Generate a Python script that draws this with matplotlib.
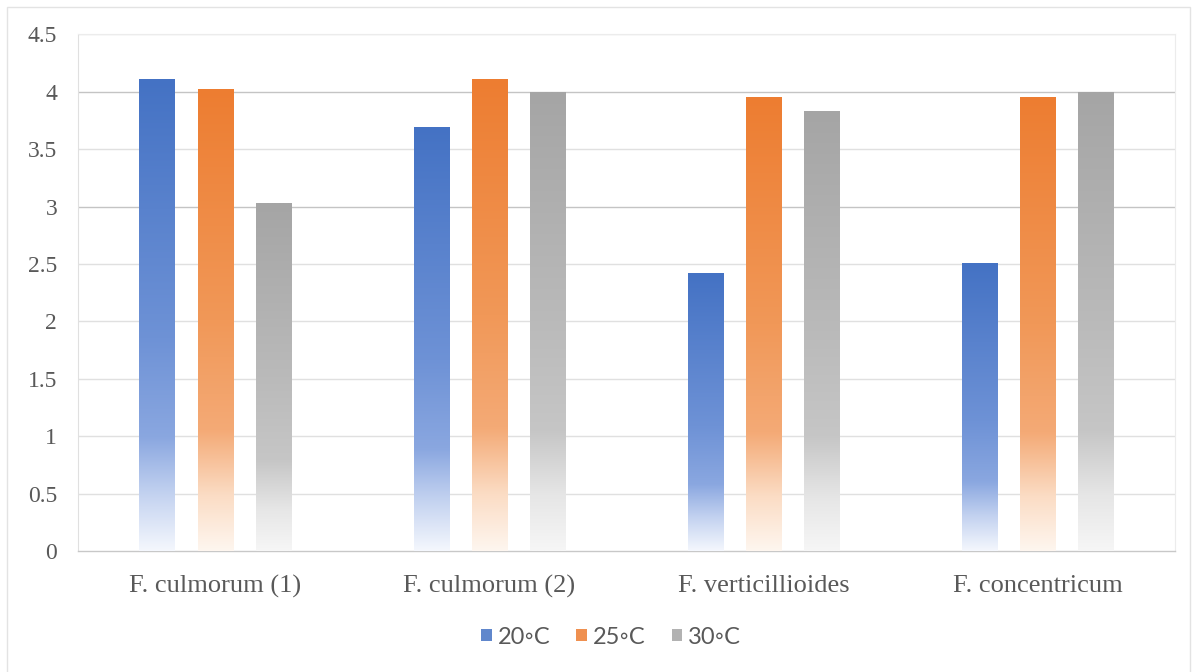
import numpy as np
import matplotlib
matplotlib.use("Agg")
import matplotlib.pyplot as plt
from matplotlib.colors import to_rgb
from matplotlib.patches import Rectangle

# -------------------------------------------------------------------
# Data
# -------------------------------------------------------------------
species = ["F. culmorum (1)", "F. culmorum (2)", "F. verticillioides", "F. concentricum"]
temps = ["20\u25e6C", "25\u25e6C", "30\u25e6C"]
vals_20 = [4.11, 3.69, 2.42, 2.50]
vals_25 = [4.02, 4.11, 3.95, 3.95]
vals_30 = [3.03, 3.99, 3.83, 3.99]
series = [vals_20, vals_25, vals_30]

base_colors = ["#4472C4", "#ED7D31", "#A5A5A5"]
# gradient stops (fraction of bar height, colour), bottom -> top
grad_stops = [
    [(0.0, "#f4f7fd"), (0.12, "#c3d2f0"), (0.24, "#8aa7e0"), (0.45, "#6e92d6"), (1.0, "#4472C4")],
    [(0.0, "#fef6ef"), (0.12, "#fbdcc4"), (0.26, "#f4aa76"), (0.5, "#f19858"), (1.0, "#ED7D31")],
    [(0.0, "#f6f6f6"), (0.12, "#e6e6e6"), (0.26, "#c6c6c6"), (0.5, "#bababa"), (1.0, "#A5A5A5")],
]


def gradient_image(stops, n=256):
    f = np.linspace(0, 1, n)
    pos = [s[0] for s in stops]
    cols = np.array([to_rgb(s[1]) for s in stops])
    img = np.zeros((n, 1, 3))
    for c in range(3):
        img[:, 0, c] = np.interp(f, pos, cols[:, c])
    return img


# -------------------------------------------------------------------
# Plot
# -------------------------------------------------------------------
fig = plt.figure(figsize=(11.96, 6.72), dpi=100)
ax = fig.add_axes([0.0652, 0.180, 0.9172, 0.769])

# outer chart frame
fig.add_artist(Rectangle((7 / 1196, -0.01), 1183 / 1196, 1 - 7 / 672 + 0.01,
                         transform=fig.transFigure, fill=False,
                         edgecolor="#e3e3e3", linewidth=1.0))

x = np.arange(len(species))
width = 0.128
step = 0.212

for i, (vals, col, stops) in enumerate(zip(series, base_colors, grad_stops)):
    offs = (i - 1) * step
    bars = ax.bar(x + offs, vals, width, color="none", edgecolor="none",
                  label=temps[i], zorder=3)
    img = gradient_image(stops)
    for b in bars:
        x0 = b.get_x()
        h = b.get_height()
        ax.imshow(img, extent=[x0, x0 + b.get_width(), 0, h], origin="lower",
                  aspect="auto", zorder=3, interpolation="bilinear")

ax.set_xlim(-0.5, len(species) - 0.5)
ax.set_ylim(0, 4.5)
ax.set_yticks(np.arange(0, 4.51, 0.5))
ax.set_yticklabels(["0", "0.5", "1", "1.5", "2", "2.5", "3", "3.5", "4", "4.5"])
ax.set_xticks(x)
ax.set_xticklabels(species)

# gridlines
for v in np.arange(0.5, 4.51, 0.5):
    c = "#c4c4c4" if v in (3.0, 4.0) else "#e0e0e0"
    ax.axhline(v, color=c, linewidth=1.0, zorder=1)

for s in ["top", "right"]:
    ax.spines[s].set_color("#ececec")
    ax.spines[s].set_linewidth(0.8)
ax.spines["left"].set_color("#e0e0e0")
ax.spines["bottom"].set_color("#c8c8c8")
ax.spines["bottom"].set_linewidth(1.0)

ax.tick_params(axis="both", length=0, colors="#595959")
ax.tick_params(axis="y", pad=15, labelsize=17)
ax.tick_params(axis="x", pad=17, labelsize=19)
for lbl in ax.get_yticklabels() + ax.get_xticklabels():
    lbl.set_family("Liberation Serif")

handles = [Rectangle((0, 0), 1, 1, facecolor=c, alpha=0.85) for c in base_colors]
leg = fig.legend(handles, temps, loc="center", bbox_to_anchor=(0.511, 0.052),
                 ncol=3, frameon=False, handlelength=0.45, handleheight=0.45,
                 handletextpad=0.25, columnspacing=1.1,
                 prop={"family": ["Lato", "DejaVu Sans"], "size": 17})
for t in leg.get_texts():
    t.set_color("#595959")

fig.savefig("out.png", dpi=100)
